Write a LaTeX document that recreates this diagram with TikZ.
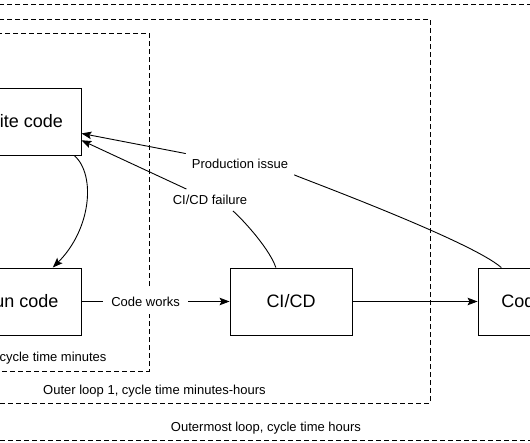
\documentclass[tikz,border=0pt]{standalone}
\usepackage{fontspec}
\setmainfont{Liberation Sans}
\usetikzlibrary{arrows.meta}
\begin{document}
\begin{tikzpicture}[x=1pt,y=-1pt,>={Stealth[length=10pt,width=7.5pt,inset=2pt]},
  box/.style={draw, line width=0.9pt, minimum width=122pt, minimum height=67pt, font=\fontsize{18}{20}\selectfont},
  loop/.style={draw, line width=0.9pt, dash pattern=on 5pt off 3pt},
  lbl/.style={font=\fontsize{13}{15}\selectfont},
  conn/.style={line width=0.9pt}]
\useasboundingbox (0,0) rectangle (530,442);
\clip (0,0) rectangle (530,442);

\draw[loop] (-60,4) rectangle (600,440);
\draw[loop] (-40,19) rectangle (430,403);
\draw[loop] (-20,33) rectangle (149,371);
\node[lbl](Outermost) at (266,428) {Outermost loop, cycle time hours};
\node[lbl](Outer) at (154.5,391) {Outer loop 1, cycle time minutes-hours};
\node[lbl, anchor=east](Inner) at (110,358) {Inner loop, cycle time minutes};

\node(Write)[box] at (20,121.5) {Write code};
\node(Run)[box] at (20,301.5) {Run code};
\node(CICD)[box] at (291,301.5) {CI/CD};
\node(Live)[box] at (539,301.5) {Code live};

\node(Fail)[lbl, inner sep=6pt] at (210,200) {CI/CD failure};
\node(Issue)[lbl, inner sep=6pt] at (240,164) {Production issue};

\draw[conn,->] (Write.-32) .. controls +(22,20) and +(38,-38) .. (Run.46);
\draw[conn,->] (Run.east) -- node(Works)[lbl, fill=white, inner sep=8pt, pos=0.433] {Code works} (CICD.west);
\draw[conn,->] (CICD.east) -- (Live.west);
\draw[conn] (CICD.114) .. controls (268,245) and (235,212) .. (Fail);
\draw[conn,->] (Fail) -- (Write.-17);
\draw[conn] (Live.138) .. controls (470,240) and (290,174) .. (Issue);
\draw[conn,->] (Issue) -- (Write.-11);
\end{tikzpicture}
\end{document}
